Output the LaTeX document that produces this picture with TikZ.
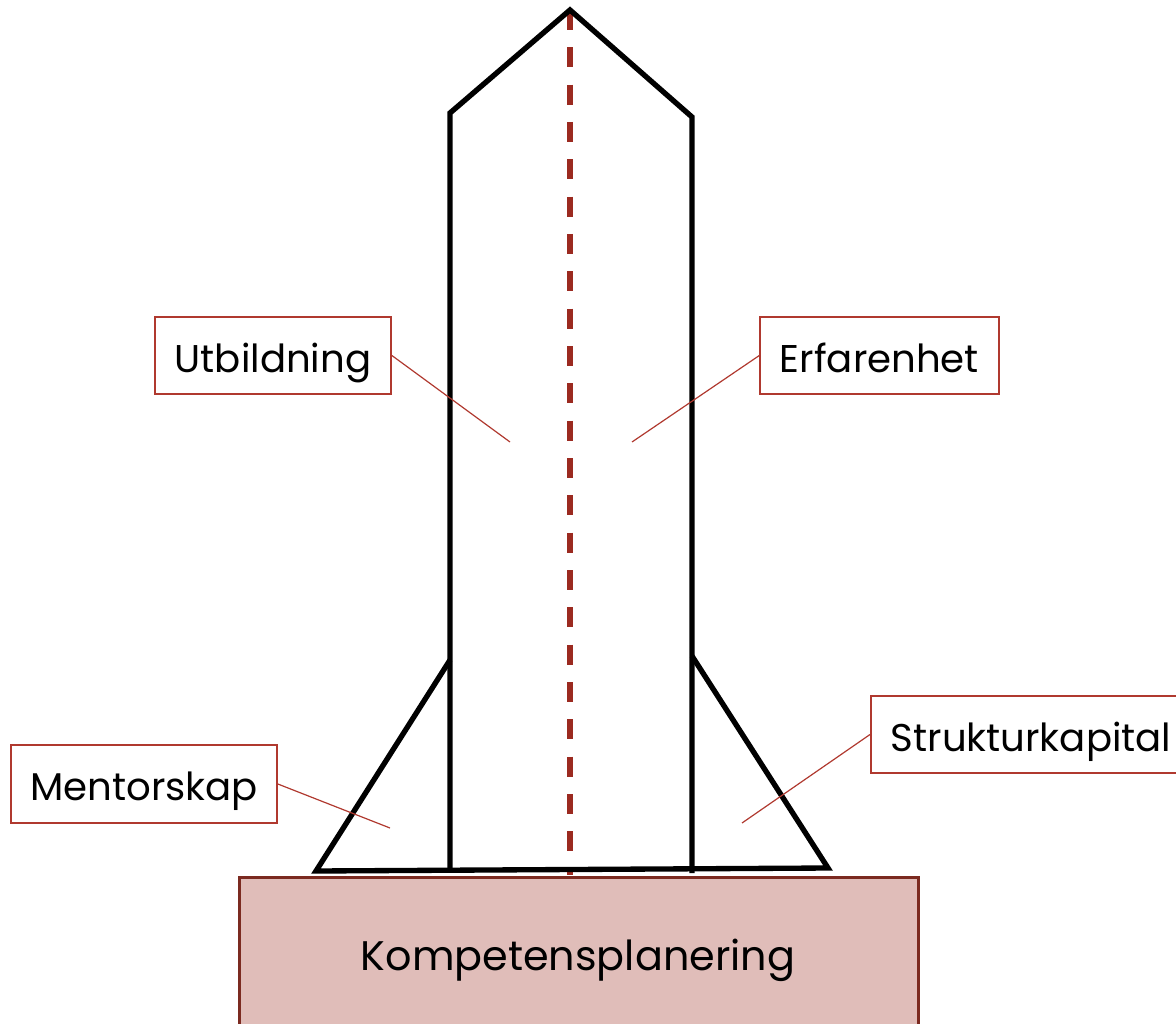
\documentclass[tikz,border=0pt]{standalone}
\usepackage{fontspec}
\setmainfont{Poppins}
\definecolor{boxred}{HTML}{B0392F}
\definecolor{dashred}{HTML}{9B2A20}
\definecolor{basefill}{HTML}{E0BDB9}
\definecolor{baseedge}{HTML}{7B2A20}
\begin{document}
\begin{tikzpicture}[x=0.75pt,y=-0.75pt,
  rocket/.style={line width=4pt, black, line join=miter},
  labelbox/.style={draw=boxred, line width=1.3pt, fill=white, inner sep=0pt, minimum height=58pt,
     font=\fontsize{29}{33}\selectfont, text height=24.8pt, text depth=0pt},
  leader/.style={draw=boxred, line width=0.9pt}]
\useasboundingbox (0,0) rectangle (1176,1023);
% base
\node[draw=baseedge, line width=2.2pt, fill=basefill, minimum width=509pt, minimum height=130pt, inner sep=0pt, anchor=north west] (base) at (238,876) {};
\node[font=\fontsize{31}{35}\selectfont, text height=24pt, text depth=0pt] (komp) at (578,954) {Kompetensplanering};
% rocket
\coordinate (apex) at (570,10);
\coordinate (lt) at (450,113);
\coordinate (rt) at (692,117);
\coordinate (lb) at (450,870);
\coordinate (rb) at (692,873);
\coordinate (lf) at (450,660);
\coordinate (rf) at (692,656);
\coordinate (lfb) at (316,871);
\coordinate (rfb) at (828,868);
\coordinate (dashbot) at (570,875);
\draw[dashred, line width=3.8pt, dash pattern=on 15pt off 13pt] (apex) -- (dashbot);
\draw[rocket] (lb) -- (lt) -- (apex) -- (rt) -- (rb);
\draw[rocket] (lf) -- (lfb) -- (rfb) -- (rf);
% labels
\node[labelbox, minimum width=177pt] (utb) at (273,355.5) {Utbildning};
\node[labelbox, minimum width=179pt] (erf) at (879.5,355.5) {Erfarenhet};
\node[labelbox, minimum width=199.5pt] (men) at (144,784) {Mentorskap};
\node[labelbox, anchor=west, inner xsep=15pt, text width=230pt, align=left] (str) at (870,734.5) {Strukturkapital};
\coordinate (utbend) at (510,442);
\coordinate (erfend) at (632,442);
\coordinate (menend) at (390,828);
\coordinate (strend) at (742,823);
\draw[leader] (utb.east) -- (utbend);
\draw[leader] (erf.west) -- (erfend);
\draw[leader] (men.east) -- (menend);
\draw[leader] (str.west) -- (strend);
\end{tikzpicture}
\end{document}
